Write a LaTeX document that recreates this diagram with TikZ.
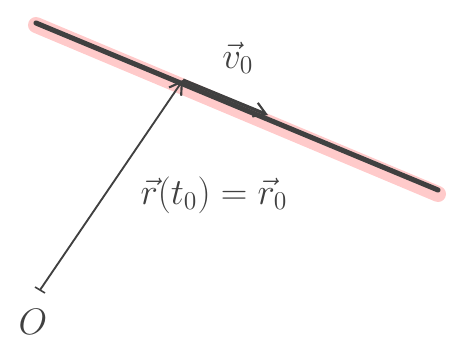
\documentclass[tikz,border=0pt]{standalone}
\usetikzlibrary{arrows.meta,calc}
\newcommand{\biglbl}[1]{\scalebox{1.6}{\LARGE #1}}
\begin{document}
\begin{tikzpicture}[x=0.75pt,y=-0.75pt,
  lbl/.style={text=black!75},
  vec/.style={draw=black!75, line width=1.4pt, -{Straight Barb[length=9pt,width=11pt,line width=1.6pt]}}]
\useasboundingbox (0,0) rectangle (454,360);
\coordinate (A) at (36,23);
\coordinate (B) at (438,190);
\coordinate (P) at (183,80);
\coordinate (V) at (268,115);
\coordinate (O) at (40,290);
% red highlight
\draw[red!60, opacity=0.35, line width=12pt, line cap=round] ($(A)+(0,2)$) -- ($(B)+(0,4)$);
\draw[black!75, line width=3.8pt, line cap=round] (A) -- (B);
% position vector
\draw[vec] (O) -- (P);
% velocity vector
\draw[vec, line width=2.4pt] (P) -- (V);
% origin mark
\draw[black!75, line width=1.2pt] ($(O)+(-5,-3)$) -- ($(O)+(5,3)$);
\node[lbl] (v0) at (238,58) {\biglbl{$\vec{v}_0$}};
\node[lbl] (r0) at (214,195) {\biglbl{$\vec{r}(t_0)=\vec{r}_0$}};
\node[lbl] (o) at (33,322) {\biglbl{$O$}};
\end{tikzpicture}
\end{document}
